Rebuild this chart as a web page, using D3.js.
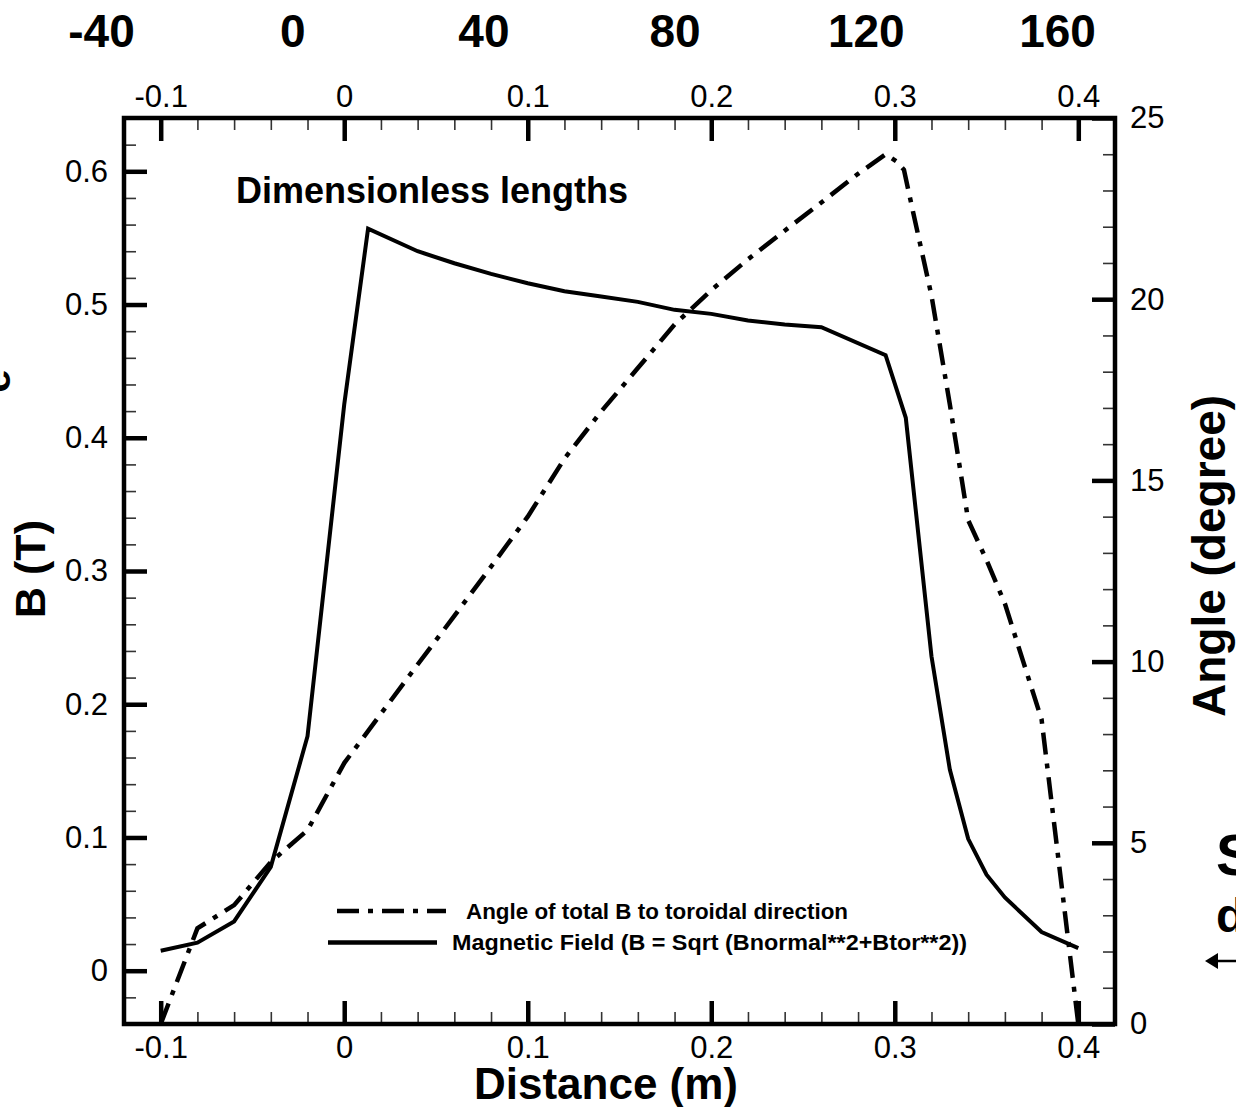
<!DOCTYPE html>
<html>
<head>
<meta charset="utf-8">
<script src="https://cdn.jsdelivr.net/npm/d3@7"></script>
<style>
  body { margin: 0; background: #fff; }
  svg { display: block; font-family: "Liberation Sans", Arial, sans-serif; }
</style>
</head>
<body>
<svg width="1236" height="1107"></svg>
<script>
// magnetic field along the distance
var distB = [-0.1, -0.08, -0.06, -0.04, -0.02, 0.0, 0.013, 0.04, 0.06, 0.08, 0.1, 0.12, 0.14,
  0.16, 0.18, 0.2, 0.22, 0.24, 0.26, 0.295, 0.306, 0.32, 0.33, 0.34, 0.35, 0.36, 0.38, 0.4];
var fieldB = [0.015, 0.021, 0.037, 0.078, 0.176, 0.425, 0.557, 0.540, 0.531, 0.523, 0.516, 0.510, 0.506,
  0.502, 0.496, 0.493, 0.488, 0.485, 0.483, 0.462, 0.415, 0.236, 0.151, 0.099, 0.072, 0.055, 0.029, 0.017];

// angle of total B to toroidal direction
var distAngle = [-0.1, -0.08, -0.06, -0.04, -0.02, 0.0, 0.02, 0.04, 0.06, 0.08, 0.1, 0.12, 0.14, 0.16,
  0.18, 0.2, 0.22, 0.24, 0.26, 0.28, 0.295, 0.301, 0.305, 0.31, 0.32, 0.33, 0.34, 0.35, 0.36, 0.37, 0.38, 0.4];
var angleDeg = [0.0, 2.64, 3.28, 4.47, 5.35, 7.2, 8.56, 9.92, 11.26, 12.62, 14.0, 15.6, 16.9, 18.1,
  19.3, 20.25, 21.1, 21.89, 22.67, 23.46, 24.0, 23.8, 23.57, 22.4, 20.1, 17.1, 13.9, 12.8, 11.6, 10.0, 8.4, 0.0];

// tick labels
var distTicks = [-0.1, 0, 0.1, 0.2, 0.3, 0.4];
var bTicks = [0, 0.1, 0.2, 0.3, 0.4, 0.5, 0.6];
var angleTicks = [0, 5, 10, 15, 20, 25];
var topLabels = [-40, 0, 40, 80, 120, 160];

var legendLabels = ["Angle of total B to toroidal direction",
  "Magnetic Field (B = Sqrt (Bnormal**2+Btor**2))"];

var svg = d3.select("svg"),
    margin = {top: 118, right: 121, bottom: 83, left: 124},
    width = +svg.attr("width") - margin.left - margin.right,
    height = +svg.attr("height") - margin.top - margin.bottom,
    g = svg.append("g").attr("transform", "translate(" + margin.left + "," + margin.top + ")");

var x = d3.scaleLinear().domain([-0.12, 0.42]).range([0, width]);
var yB = d3.scaleLinear().domain([-0.04, 0.64]).range([height, 0]);
var yA = d3.scaleLinear().domain([0, 25]).range([height, 0]);
var topScale = d3.scaleLinear().domain([-40, 160]).range([101, 1057]);

// plain hyphen minus, like the original plot
var fmt = function(d) { return String(+d.toFixed(2)); };

// minor tick positions
var xMinor = d3.range(-6, 22).filter(function(i) { return i % 5 != 0; }).map(function(i) { return i * 0.02; });
var bMinor = d3.range(-2, 33).filter(function(i) { return i % 5 != 0; }).map(function(i) { return i * 0.02; });
var aMinor = d3.range(1, 25).filter(function(i) { return i % 5 != 0; });

function styleAxis(sel, major) {
  sel.select(".domain").remove();
  sel.selectAll("line")
    .attr("stroke", major ? "#000" : "#333")
    .attr("stroke-width", major ? 4.5 : 1.6);
  sel.selectAll("text")
    .attr("fill", "#000")
    .attr("font-size", 31)
    .attr("font-family", "'Liberation Sans', Arial, sans-serif");
}

// minor ticks
g.append("g").attr("transform", "translate(0," + height + ")")
  .call(d3.axisBottom(x).tickValues(xMinor).tickSize(-12).tickFormat(""))
  .call(styleAxis, false);
g.append("g")
  .call(d3.axisTop(x).tickValues(xMinor).tickSize(-12).tickFormat(""))
  .call(styleAxis, false);
g.append("g")
  .call(d3.axisLeft(yB).tickValues(bMinor).tickSize(-12).tickFormat(""))
  .call(styleAxis, false);
g.append("g").attr("transform", "translate(" + width + ",0)")
  .call(d3.axisRight(yA).tickValues(aMinor).tickSize(-12).tickFormat(""))
  .call(styleAxis, false);

// major ticks with labels
g.append("g").attr("transform", "translate(0," + height + ")")
  .call(d3.axisBottom(x).tickValues(distTicks).tickSize(-23).tickPadding(12).tickFormat(fmt))
  .call(styleAxis, true);
g.append("g")
  .call(d3.axisTop(x).tickValues(distTicks).tickSize(-23).tickPadding(11).tickFormat(fmt))
  .call(styleAxis, true);
g.append("g")
  .call(d3.axisLeft(yB).tickValues(bTicks).tickSize(-23).tickPadding(16).tickFormat(fmt))
  .call(styleAxis, true);
g.append("g").attr("transform", "translate(" + width + ",0)")
  .call(d3.axisRight(yA).tickValues(angleTicks).tickSize(-23).tickPadding(15))
  .call(styleAxis, true);

// curves
var angleLine = d3.line()
  .x(function(d, i) { return x(distAngle[i]); })
  .y(function(d) { return yA(d); });
var fieldLine = d3.line()
  .x(function(d, i) { return x(distB[i]); })
  .y(function(d) { return yB(d); });

g.append("path")
  .datum(angleDeg)
  .attr("d", angleLine)
  .attr("fill", "none")
  .attr("stroke", "#000")
  .attr("stroke-width", 4.5)
  .attr("stroke-dasharray", "22,9,5,9");

g.append("path")
  .datum(fieldB)
  .attr("d", fieldLine)
  .attr("fill", "none")
  .attr("stroke", "#000")
  .attr("stroke-width", 4)
  .attr("stroke-linejoin", "miter");

// frame
g.append("rect")
  .attr("width", width)
  .attr("height", height)
  .attr("fill", "none")
  .attr("stroke", "#000")
  .attr("stroke-width", 4.5);

// inner text
g.append("text")
  .attr("x", 112)
  .attr("y", 85)
  .attr("font-size", 36)
  .attr("font-weight", "bold")
  .text("Dimensionless lengths");

// legend
var legend = g.append("g")
  .attr("font-weight", "bold")
  .attr("font-size", 22)
  .selectAll("g")
  .data(legendLabels)
  .enter().append("g")
  .attr("transform", function(d, i) { return "translate(0," + (793 + i * 31.5) + ")"; });

legend.append("line")
  .attr("x1", function(d, i) { return i == 0 ? 213 : 204; })
  .attr("x2", function(d, i) { return i == 0 ? 322 : 313; })
  .attr("stroke", "#000")
  .attr("stroke-width", 4.5)
  .attr("stroke-dasharray", function(d, i) { return i == 0 ? "22,9,5,9" : null; });

legend.append("text")
  .attr("x", function(d, i) { return i == 0 ? 342 : 328; })
  .attr("dy", "0.36em")
  .attr("textLength", function(d, i) { return i == 0 ? 382 : 515; })
  .attr("lengthAdjust", "spacingAndGlyphs")
  .text(function(d) { return d; });

// axis titles
svg.append("text")
  .attr("x", 606)
  .attr("y", 1099)
  .attr("text-anchor", "middle")
  .attr("font-size", 44)
  .attr("font-weight", "bold")
  .text("Distance (m)");

svg.append("text")
  .attr("transform", "translate(45,569) rotate(-90)")
  .attr("text-anchor", "middle")
  .attr("font-size", 43)
  .attr("font-weight", "bold")
  .text("B (T)");

svg.append("text")
  .attr("transform", "translate(1225,556) rotate(-90)")
  .attr("text-anchor", "middle")
  .attr("font-size", 46)
  .attr("font-weight", "bold")
  .text("Angle (degree)");

// top row of labels from the neighbouring plot
svg.append("g")
  .attr("transform", "translate(0,47)")
  .call(d3.axisTop(topScale).tickValues(topLabels).tickSize(0).tickPadding(0).tickFormat(String))
  .call(function(sel) {
    sel.select(".domain").remove();
    sel.selectAll("text")
      .attr("fill", "#000")
      .attr("font-size", 46)
      .attr("font-weight", "bold")
      .attr("font-family", "'Liberation Sans', Arial, sans-serif");
  });

// cut-off fragments of neighbouring panels
svg.append("text")
  .attr("transform", "translate(10,381) rotate(-90)")
  .attr("text-anchor", "middle")
  .attr("font-size", 43)
  .attr("font-weight", "bold")
  .text("e");

svg.append("text")
  .attr("x", 1216).attr("y", 875)
  .attr("font-size", 58).attr("font-weight", "bold")
  .text("S");
svg.append("text")
  .attr("x", 1216).attr("y", 932)
  .attr("font-size", 48).attr("font-weight", "bold")
  .text("d");
svg.append("path")
  .attr("d", "M1205,961L1218,953L1218,969Z")
  .attr("fill", "#000");
svg.append("line")
  .attr("x1", 1217).attr("x2", 1236).attr("y1", 961).attr("y2", 961)
  .attr("stroke", "#000").attr("stroke-width", 2.5);
</script>
</body>
</html>
